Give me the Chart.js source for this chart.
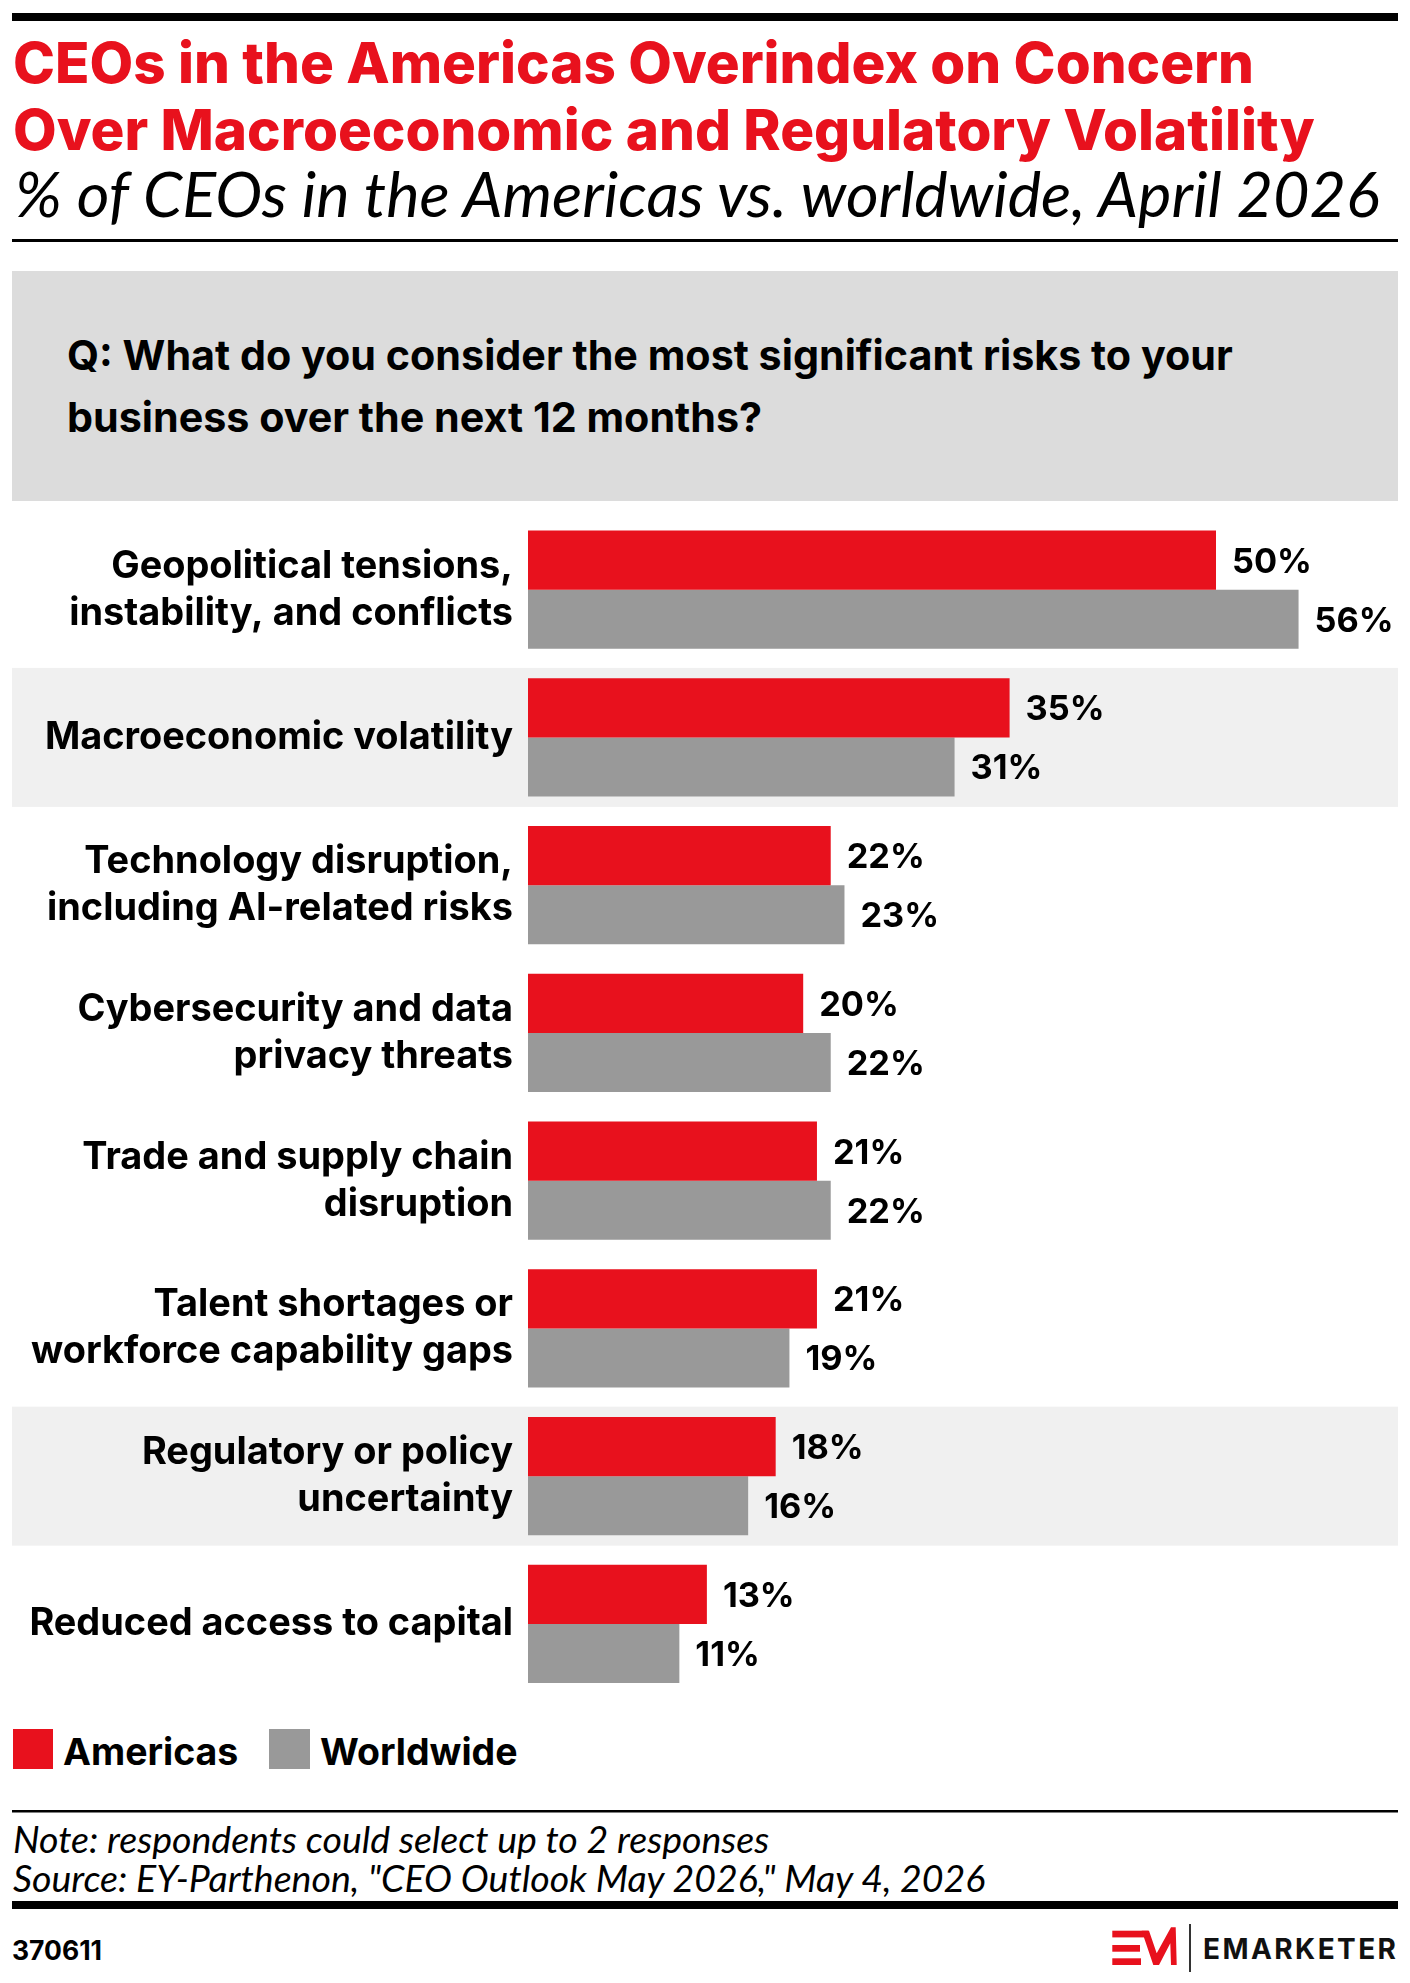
<!DOCTYPE html>
<html>
<head>
<meta charset="utf-8">
<script src="https://cdn.jsdelivr.net/npm/chart.js@4.4.1/dist/chart.umd.min.js"></script>
<style>
  html, body { margin: 0; padding: 0; background: #fff; }
  #page { position: relative; width: 1410px; height: 1983px; overflow: hidden; }
  #frame { position: absolute; left: 0; top: 0; }
  #chart { position: absolute; left: 0; top: 500px; }
</style>
</head>
<body>
<div id="page">
<svg id="frame" width="1410" height="1983">
  <rect x="12" y="13" width="1386" height="8" fill="#000"/>
  <text id="t1" x="13" y="83" font-family="Inter" font-weight="800" font-size="56" fill="#e8111d">CEOs in the Americas Overindex on Concern</text>
  <text id="t2" x="13" y="150" font-family="Inter" font-weight="800" font-size="56" fill="#e8111d">Over Macroeconomic and Regulatory Volatility</text>
  <text id="sub" x="15" y="217" font-family="Lato, 'Open Sans'" font-style="italic" font-size="56" fill="#000">% of CEOs in the Americas vs. worldwide, April 2026</text>
  <rect x="12" y="239" width="1386" height="3" fill="#000"/>

  <rect x="12" y="271" width="1386" height="230" fill="#dcdcdc"/>
  <text id="q1" x="67" y="370" font-family="Inter" font-weight="700" font-size="38" fill="#000">Q: What do you consider the most significant risks to your</text>
  <text id="q2" x="67" y="432" font-family="Inter" font-weight="700" font-size="38" fill="#000">business over the next 12 months?</text>

  <rect x="13" y="1729" width="40" height="40" fill="#e8111d"/>
  <text id="lg1" x="63" y="1765" font-family="Inter" font-weight="700" font-size="40" fill="#000">Americas</text>
  <rect x="269" y="1729" width="41" height="40" fill="#999999"/>
  <text id="lg2" x="320" y="1765" font-family="Inter" font-weight="700" font-size="40" fill="#000">Worldwide</text>

  <rect x="12" y="1810" width="1386" height="2.5" fill="#000"/>
  <text id="n1" x="13" y="1853" font-family="Lato, 'Open Sans'" font-style="italic" font-size="32" fill="#000">Note: respondents could select up to 2 responses</text>
  <text id="n2" x="13" y="1892" font-family="Lato, 'Open Sans'" font-style="italic" font-size="32" fill="#000">Source: EY-Parthenon, "CEO Outlook May 2026," May 4, 2026</text>
  <rect x="12" y="1901" width="1386" height="8" fill="#000"/>

  <text id="code" x="12" y="1960" font-family="Inter" font-weight="700" font-size="27" fill="#000">370611</text>

  <!-- logo -->
  <rect x="1112.3" y="1930.7" width="36" height="6.7" fill="#e8111d"/>
  <rect x="1112.3" y="1945" width="27.7" height="6.7" fill="#e8111d"/>
  <rect x="1112.3" y="1958.3" width="28.7" height="6.7" fill="#e8111d"/>
  <polygon points="1141.7,1930.7 1149,1930.7 1156.7,1953.3 1171,1927.3 1175.7,1927.3 1176.7,1965 1171,1965 1170.3,1943.3 1159,1965 1153.3,1965" fill="#e8111d"/>
  <rect x="1189" y="1924" width="2" height="48" fill="#333"/>
  <text x="1203" y="1959" font-family="Inter" font-weight="700" font-size="28" fill="#111" textLength="193" lengthAdjust="spacing">EMARKETER</text>
</svg>
<canvas id="chart" width="1410" height="1210"></canvas>
</div>

<script>
const categories = [
  ["Geopolitical tensions,", "instability, and conflicts"],
  ["Macroeconomic volatility"],
  ["Technology disruption,", "including AI-related risks"],
  ["Cybersecurity and data", "privacy threats"],
  ["Trade and supply chain", "disruption"],
  ["Talent shortages or", "workforce capability gaps"],
  ["Regulatory or policy", "uncertainty"],
  ["Reduced access to capital"]
];
const americas = [50, 35, 22, 20, 21, 21, 18, 13];
const worldwide = [56, 31, 23, 22, 22, 19, 16, 11];
const shadedRows = [1, 6];

const RED = '#e8111d';
const GRAY = '#999999';

// scale svg text so it spans the same width as in the original
function fitGroup(ids, targets) {
  let got = 0, want = 0;
  ids.forEach((id, i) => { got += document.getElementById(id).getComputedTextLength(); want += targets[i]; });
  ids.forEach(id => {
    const el = document.getElementById(id);
    const s = parseFloat(el.getAttribute('font-size'));
    el.setAttribute('font-size', (s * want / got).toFixed(2));
  });
}

const mctx = document.createElement('canvas').getContext('2d');
function textW(txt, weight, size, fam) {
  mctx.font = weight + ' ' + size + 'px ' + fam;
  return mctx.measureText(txt).width;
}

function build() {
  fitGroup(['t1', 't2'], [1239, 1304]);
  fitGroup(['sub'], [1365]);
  fitGroup(['q1', 'q2'], [1166, 695]);
  fitGroup(['lg1', 'lg2'], [175, 198]);
  fitGroup(['n1', 'n2'], [760, 969]);
  fitGroup(['code'], [90]);

  const lw = textW("Geopolitical tensions,", 700, 40, 'Inter') +
             textW("workforce capability gaps", 700, 40, 'Inter') +
             textW("Reduced access to capital", 700, 40, 'Inter');
  const labelSize = 40 * (402 + 481 + 485) / lw;
  const valSize = 40 * 80 / textW("50%", 700, 40, 'Inter');

  const bands = {
    id: 'bands',
    beforeDraw(chart) {
      const c = chart.ctx, y = chart.scales.y;
      c.save();
      c.fillStyle = '#f0f0f0';
      shadedRows.forEach(i => {
        const p = y.getPixelForTick(i);
        c.fillRect(12, p - 69.5, 1386, 139);
      });
      c.restore();
    }
  };

  const values = {
    id: 'values',
    afterDatasetsDraw(chart) {
      const c = chart.ctx;
      c.save();
      c.fillStyle = '#000';
      c.font = '700 ' + valSize + 'px Inter';
      c.textAlign = 'left';
      c.textBaseline = 'alphabetic';
      chart.data.datasets.forEach((ds, di) => {
        chart.getDatasetMeta(di).data.forEach((bar, i) => {
          c.fillText(ds.data[i] + '%', bar.x + 16, bar.y + valSize * 0.3635);
        });
      });
      c.restore();
    }
  };

  new Chart(document.getElementById('chart'), {
    type: 'bar',
    data: {
      labels: categories,
      datasets: [
        { label: 'Americas', data: americas, backgroundColor: RED, borderWidth: 0 },
        { label: 'Worldwide', data: worldwide, backgroundColor: GRAY, borderWidth: 0 }
      ]
    },
    options: {
      indexAxis: 'y',
      responsive: false,
      animation: false,
      devicePixelRatio: 1,
      categoryPercentage: 0.8,
      barPercentage: 1.0,
      layout: { padding: { left: 0, right: 56.4, top: 15.8, bottom: 12.2 } },
      plugins: { legend: { display: false }, tooltip: { enabled: false } },
      scales: {
        x: { display: false, min: 0, max: 60 },
        y: {
          grid: { display: false, drawTicks: false },
          border: { display: false },
          ticks: {
            color: '#000',
            padding: 15,
            autoSkip: false,
            font: { family: 'Inter', weight: '700', size: labelSize, lineHeight: 47 / labelSize }
          },
          afterFit(s) {
            s.width = 528;
            s.paddingTop = 0;
            s.paddingBottom = 0;
          }
        }
      }
    },
    plugins: [bands, values]
  });
}

document.fonts.ready.then(build);
</script>
</body>
</html>
